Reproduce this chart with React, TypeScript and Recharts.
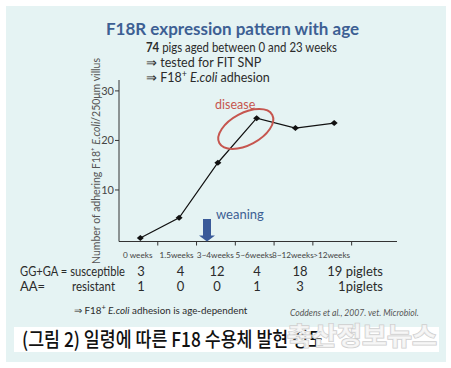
import { LineChart, Line, XAxis, YAxis } from "recharts";

const categories = ["0 weeks", "1.5weeks", "3~4weeks", "5~6weeks", "8~12weeks", ">12weeks"];
const adhesion = [0.3, 4.4, 15.5, 24.5, 22.5, 23.5];
const susceptible = ["3", "4", "12", "4", "18", "19 piglets"];
const resistant = ["1", "0", "0", "1", "3", "1piglets"];
const yTicks = [10, 20, 30];
const xTicks = [1, 2, 3, 4, 5, 6];

const data = categories.map((c, i) => ({ x: i + 0.55, label: c, value: adhesion[i] }));

const FONT = "Lato, 'Open Sans', sans-serif";
const TEXT = "#2b2b2b";
const BLUE = "#3d5f93";
const RED = "#c6564f";

// column centres of the small table under the chart
const colX = [141, 180.5, 217, 257, 300];

const Diamond = (props: any) => {
  const { cx, cy, index } = props;
  return (
    <polygon
      key={index}
      points={`${cx},${cy - 3} ${cx + 3.5},${cy} ${cx},${cy + 3} ${cx - 3.5},${cy}`}
      fill="#111"
    />
  );
};

const WeekTick = (props: any) => {
  const { x, y, payload } = props;
  return (
    <text x={x - 20} y={y + 10} textAnchor="middle" fontSize={8.2} fill="#444" fontFamily={FONT}>
      {categories[payload.value - 1]}
    </text>
  );
};

const App = () => {
  return (
    <div style={{ position: "relative", width: 451, height: 368, background: "#fff" }}>
      <style>{`body{margin:0}`}</style>
      <div
        style={{
          position: "absolute",
          left: 6,
          top: 6,
          width: 440,
          height: 356,
          background: "#e5f3f3",
        }}
      />
      <div style={{ position: "absolute", left: 0, top: 0 }}>
        <LineChart
          width={451}
          height={368}
          data={data}
          margin={{ top: 80, left: 89, right: 54, bottom: 106.5 }}
        >
          <XAxis
            type="number"
            dataKey="x"
            domain={[0, 7.17]}
            ticks={xTicks}
            allowDataOverflow
            tickSize={4}
            height={20}
            stroke="#333"
            tick={<WeekTick />}
          />
          <YAxis
            type="number"
            domain={[-0.4, 32.2]}
            ticks={yTicks}
            allowDataOverflow
            width={30}
            tickSize={4}
            tickMargin={1}
            stroke="#333"
            tick={{ fontSize: 11, fill: "#444", fontFamily: FONT }}
          />
          <Line
            type="linear"
            dataKey="value"
            stroke="#111"
            strokeWidth={1.2}
            dot={<Diamond />}
            isAnimationActive={false}
          />
        </LineChart>
      </div>
      <svg
        width={451}
        height={368}
        style={{ position: "absolute", left: 0, top: 0, pointerEvents: "none" }}
        fontFamily={FONT}
      >
        <text x={232.5} y={34.5} textAnchor="middle" fontSize={17} fontWeight={700} fill={BLUE}>
          F18R expression pattern with age
        </text>
        <text x={146} y={51.5} fontSize={12.5} fill={TEXT} textLength={191} lengthAdjust="spacingAndGlyphs">
          <tspan fontWeight={700}>74</tspan> pigs aged between 0 and 23 weeks
        </text>
        <text x={146} y={67} fontSize={12.5} fill={TEXT}>
          ⇒ tested for FIT SNP
        </text>
        <text x={146} y={82} fontSize={12.5} fill={TEXT}>
          ⇒ F18<tspan fontSize={9} dy={-5}>+</tspan>
          <tspan dy={5} fontStyle="italic"> E.coli</tspan> adhesion
        </text>

        <text
          transform="translate(99.5,161) rotate(-90)"
          textAnchor="middle"
          fontSize={10.5}
          fill="#555"
        >
          Number of adhering F18⁺ <tspan fontStyle="italic">E.coli</tspan>/250μm villus
        </text>

        <text x={215} y={109} fontSize={12.5} fill={RED}>
          disease
        </text>
        <ellipse
          cx={245.8}
          cy={129}
          rx={30}
          ry={16}
          transform="rotate(-28 245.8 129)"
          fill="none"
          stroke={RED}
          strokeWidth={2}
        />
        <text x={216} y={219} fontSize={13} fill={BLUE}>
          weaning
        </text>
        <polygon
          points="203,219 211,219 211,235.5 215,235.5 207,241.5 199,235.5 203,235.5"
          fill="#3a5a99"
        />

        <text x={20} y={276} fontSize={13} fill={TEXT} textLength={105} lengthAdjust="spacingAndGlyphs">
          GG+GA = susceptible
        </text>
        <text x={20} y={290.5} fontSize={13} fill={TEXT}>
          AA=
        </text>
        <text x={72} y={290.5} fontSize={13} fill={TEXT} textLength={43} lengthAdjust="spacingAndGlyphs">
          resistant
        </text>
        {susceptible.map((v, i) => (
          <text
            key={"s" + i}
            x={i < 5 ? colX[i] : 383}
            y={276}
            textAnchor={i < 5 ? "middle" : "end"}
            fontSize={13}
            fill={TEXT}
          >
            {v}
          </text>
        ))}
        {resistant.map((v, i) => (
          <text
            key={"r" + i}
            x={i < 5 ? colX[i] : 383}
            y={290.5}
            textAnchor={i < 5 ? "middle" : "end"}
            fontSize={13}
            fill={TEXT}
          >
            {v}
          </text>
        ))}

        <text x={74} y={314} fontSize={9.8} fill={TEXT}>
          ⇒ F18<tspan fontSize={7.5} dy={-4}>+</tspan>
          <tspan dy={4} fontStyle="italic"> E.coli</tspan> adhesion is age-dependent
        </text>
        <text x={290} y={315.5} fontSize={8.6} fontStyle="italic" fill="#555">
          Coddens et al., 2007. vet. Microbiol.
        </text>

        <rect x={14} y={327} width={425} height={25} fill="#fff" />
        <text
          x={22}
          y={347}
          fontSize={20}
          fontWeight={500}
          fill="#111"
          fontFamily="'Noto Sans CJK KR', sans-serif"
          textLength={302}
          lengthAdjust="spacingAndGlyphs"
        >
          (그림 2) 일령에 따른 F18 수용체 발현 정도
        </text>
        <text
          x={287}
          y={345}
          fontSize={25}
          fontWeight={700}
          fill="#f6f6f6"
          fillOpacity={0.85}
          stroke="#cfcfcf"
          strokeWidth={1.5}
          paintOrder="stroke"
          fontFamily="'Noto Sans CJK KR', sans-serif"
          textLength={150}
          lengthAdjust="spacingAndGlyphs"
        >
          축산정보뉴스
        </text>
      </svg>
    </div>
  );
};

export default App;
